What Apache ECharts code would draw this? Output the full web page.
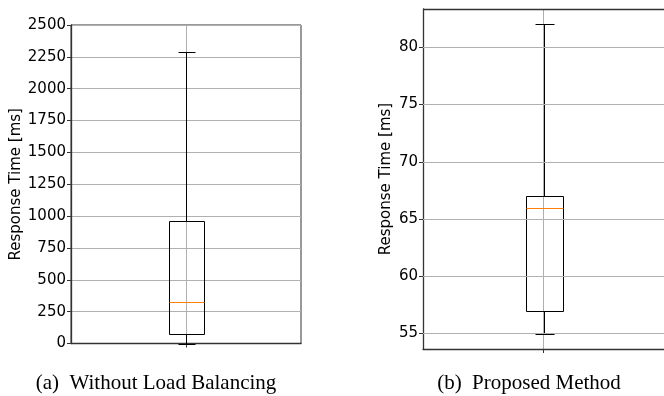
<!DOCTYPE html>
<html>
<head>
<meta charset="utf-8">
<script src="https://cdn.jsdelivr.net/npm/echarts@6/dist/echarts.min.js"></script>
<style>html,body{margin:0;padding:0;background:#fff;}#c{width:664px;height:396px;}</style>
</head>
<body>
<div id="c"></div>
<script>
// [min, Q1, median, Q3, max]
const categories = ['(a)  Without Load Balancing', '(b)  Proposed Method'];
const boxWithout = [0, 75, 325, 960, 2290];
const boxProposed = [55, 57, 66, 67, 82];
const ticksLeft = [0, 250, 500, 750, 1000, 1250, 1500, 1750, 2000, 2250, 2500];
const ticksRight = [55, 60, 65, 70, 75, 80];
const yName = 'Response Time [ms]';
const rightMin = 53.65, rightMax = 83.35;

const chart = echarts.init(document.getElementById('c'), null, {renderer: 'canvas'});

function px(v) { return Math.round(v) + 0.5; }

function renderBox(params, api) {
  const x = api.value(0);
  const vals = [api.value(1), api.value(2), api.value(3), api.value(4), api.value(5)];
  const pts = vals.map(v => api.coord([x, v]));
  const cx = px(pts[0][0]);
  const w = api.size([0.15, 0])[0];
  const cw = w / 2;
  const yMin = px(pts[0][1]), yQ1 = px(pts[1][1]), yMed = px(pts[2][1]), yQ3 = px(pts[3][1]), yMax = px(pts[4][1]);
  const black = {stroke: '#000', lineWidth: 1};
  const L = (x1, y1, x2, y2, style) => ({type: 'line', shape: {x1, y1, x2, y2}, style});
  const bl = px(cx - w / 2), br = px(cx + w / 2);
  return {
    type: 'group',
    children: [
      {type: 'rect', shape: {x: bl, y: yQ3, width: br - bl, height: yQ1 - yQ3}, style: {fill: 'none', stroke: '#000', lineWidth: 1}},
      L(cx, yQ3, cx, yMax, black),
      L(cx, yQ1, cx, yMin, black),
      L(px(cx - cw / 2), yMax, px(cx + cw / 2), yMax, black),
      L(px(cx - cw / 2), yMin, px(cx + cw / 2), yMin, black),
      L(bl, yMed, br, yMed, {stroke: '#ff7f0e', lineWidth: 1})
    ]
  };
}

const gridLine = {color: '#b0b0b0', width: 1};
const axisLineStyle = {color: '#333', width: 1.3};
const labelStyle = {color: '#000', fontFamily: 'DejaVu Sans', fontSize: 15, formatter: v => String(v)};
const nameStyle = {color: '#000', fontFamily: 'DejaVu Sans', fontSize: 15};

chart.setOption({
  animation: false,
  grid: [
    {left: 71, top: 25, width: 230, height: 318.5, show: true, borderColor: '#333', borderWidth: 1, containLabel: false},
    {left: 423, top: 9, width: 245, height: 340, show: false, containLabel: false}
  ],
  xAxis: [0, 1].map(i => ({
    type: 'value', gridIndex: i, min: 0.5, max: 1.5, interval: 0.5,
    axisLine: {show: true, lineStyle: axisLineStyle},
    axisTick: {show: true, length: 4, lineStyle: {color: '#333'}, customValues: [1]},
    axisLabel: {show: false},
    splitLine: {show: true, lineStyle: gridLine}
  })),
  yAxis: [
    {
      type: 'value', gridIndex: 0, min: 0, max: 2500, interval: 250,
      name: yName, nameLocation: 'middle', nameGap: 45, nameTextStyle: nameStyle,
      axisLine: {show: true, lineStyle: axisLineStyle},
      axisTick: {show: true, length: 4, lineStyle: {color: '#333'}},
      axisLabel: Object.assign({margin: 5}, labelStyle),
      splitLine: {show: true, lineStyle: gridLine}
    },
    {
      type: 'value', gridIndex: 1, min: rightMin, max: rightMax,
      name: yName, nameLocation: 'middle', nameGap: 29, nameTextStyle: nameStyle,
      axisLine: {show: true, lineStyle: axisLineStyle},
      axisTick: {show: true, length: 4, lineStyle: {color: '#333'}, customValues: ticksRight},
      axisLabel: Object.assign({margin: 5, customValues: ticksRight}, labelStyle),
      splitLine: {show: false}
    }
  ],
  series: [
    {
      type: 'custom', xAxisIndex: 0, yAxisIndex: 0, renderItem: renderBox,
      encode: {x: 0, y: [1, 2, 3, 4, 5]},
      data: [[1].concat(boxWithout)], z: 3
    },
    {
      type: 'custom', xAxisIndex: 1, yAxisIndex: 1, renderItem: renderBox,
      encode: {x: 0, y: [1, 2, 3, 4, 5]},
      data: [[1].concat(boxProposed)], z: 3,
      markLine: {
        silent: true, symbol: 'none', label: {show: false},
        lineStyle: {color: '#b0b0b0', width: 1, type: 'solid'},
        data: ticksRight.map(v => ({yAxis: v})).concat([
          {yAxis: rightMax, lineStyle: {color: '#333', width: 1.3}}
        ])
      }
    }
  ],
  graphic: [
    {type: 'text', style: {text: categories[0], x: 156, y: 383, textAlign: 'center', textVerticalAlign: 'middle', font: '21px "Liberation Serif"', fill: '#000'}},
    {type: 'text', style: {text: categories[1], x: 529, y: 383, textAlign: 'center', textVerticalAlign: 'middle', font: '21px "Liberation Serif"', fill: '#000'}}
  ]
});
</script>
</body>
</html>
